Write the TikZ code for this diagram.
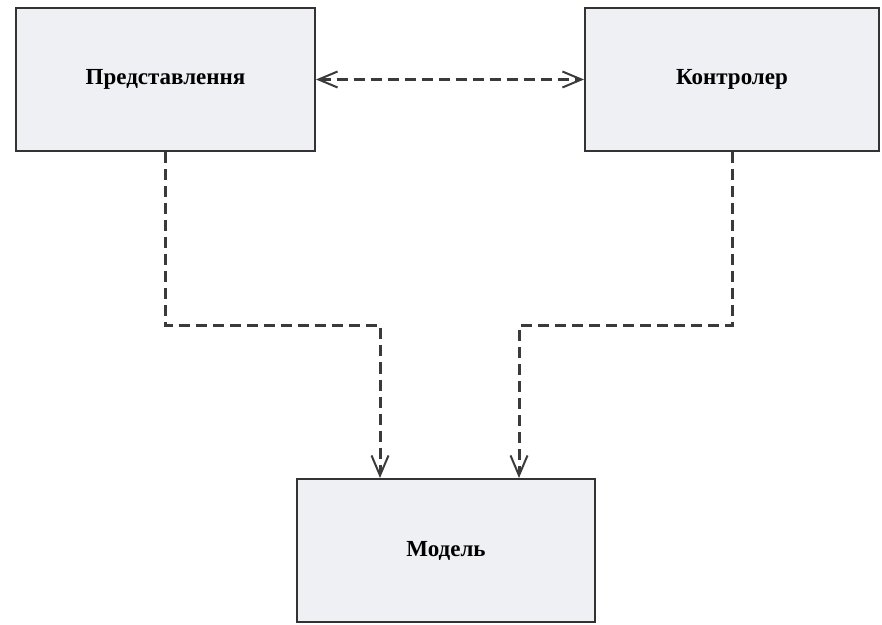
\documentclass[tikz,border=0pt]{standalone}
\usepackage{fontspec}
\setmainfont{Liberation Serif}
\usetikzlibrary{arrows.meta,positioning}
\definecolor{boxfill}{HTML}{EEF0F3}
\definecolor{boxline}{HTML}{333333}
\definecolor{depline}{HTML}{3A3A3A}

\begin{document}
\begin{tikzpicture}[x=1pt,y=1pt,
    block/.style={draw=boxline, line width=2pt, fill=boxfill, inner sep=0pt,
        minimum height=143pt, font=\fontsize{23}{27}\selectfont\bfseries},
    dep/.style={draw=depline, line width=3pt, dash pattern=on 11pt off 6pt}]

    \useasboundingbox (0,0) rectangle (882,624);

    \node[block, minimum width=299pt] (view) at (165.5,544.5) {Представлення};
    \node[block, minimum width=294pt] (ctrl) at (732,544.5) {Контролер};
    \node[block, minimum width=298pt] (model) at (446,73.5) {Модель};

    \coordinate (turnL) at (380,298);
    \coordinate (turnR) at (519,298);

    \draw[dep, {Straight Barb[length=19pt,width=16pt,line width=2pt]}-{Straight Barb[length=19pt,width=16pt,line width=2pt]}] (view.east) -- (ctrl.west);
    \draw[dep, -{Straight Barb[length=20pt,width=17pt,line width=2pt]}] (view.south) |- (turnL) -- (turnL |- model.north);
    \draw[dep, -{Straight Barb[length=20pt,width=17pt,line width=2pt]}] (ctrl.south) |- (turnR) -- (turnR |- model.north);

\end{tikzpicture}
\end{document}
